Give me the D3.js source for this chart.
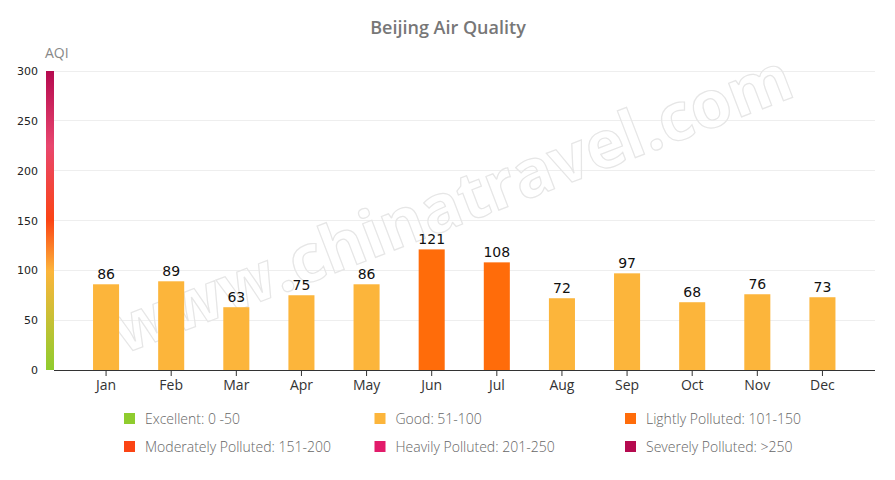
<!DOCTYPE html>
<html><head><meta charset="utf-8">
<script src="https://cdn.jsdelivr.net/npm/d3@7"></script>
<style>body{margin:0;background:#fff}text{font-family:"Open Sans",sans-serif}</style>
</head><body><div id="chart"></div>
<script>
var months = ['Jan','Feb','Mar','Apr','May','Jun','Jul','Aug','Sep','Oct','Nov','Dec'];
var aqi = [86, 89, 63, 75, 86, 121, 108, 72, 97, 68, 76, 73];
var yTicks = [0, 50, 100, 150, 200, 250, 300];
var levelNames = ['Excellent: 0 -50','Good: 51-100','Lightly Polluted: 101-150',
  'Moderately Polluted: 151-200','Heavily Polluted: 201-250','Severely Polluted: >250'];
var levelColors = ['#8fcc2e','#fcb53b','#ff6c0a','#fb4414','#e21b6a','#b50a4f'];

var width = 895, height = 480;
var svg = d3.select('#chart').append('svg').attr('width', width).attr('height', height);

var x = d3.scaleBand().domain(months).range([73.5, 855]).paddingInner(0.6).paddingOuter(0.3);
var y = d3.scaleLinear().domain([0, 300]).range([370, 71]);

// title
svg.append('text').attr('x', 448).attr('y', 34).attr('text-anchor', 'middle')
  .style('font-size', '18px').style('font-weight', '600').style('fill', '#777')
  .text('Beijing Air Quality');
svg.append('text').attr('x', 45).attr('y', 58).style('font-size', '14px').style('fill', '#888').text('AQI');

// gridlines
svg.selectAll('.grid').data(yTicks.slice(1)).enter().append('line')
  .attr('x1', 54).attr('x2', 875).attr('y1', function (d) { return y(d); }).attr('y2', function (d) { return y(d); })
  .attr('shape-rendering', 'crispEdges').style('stroke', '#eee');

// watermark
svg.append('text').attr('transform', 'translate(460,225) rotate(-21)').attr('text-anchor', 'middle')
  .style('font-size', '66px').style('font-weight', '700').style('fill', '#fff').style('fill-opacity', 0.25)
  .style('stroke', '#e6e6e6').style('stroke-width', 1.2).text('www.chinatravel.com');

// gradient axis bar
var grad = svg.append('defs').append('linearGradient').attr('id', 'aqiGrad')
  .attr('x1', 0).attr('y1', 1).attr('x2', 0).attr('y2', 0);
[[0,'#8fcc2e'],[0.33,'#fcb53b'],[0.5,'#fb4414'],[0.75,'#e8466e'],[1,'#b50a4f']].forEach(function (s) {
  grad.append('stop').attr('offset', s[0]).attr('stop-color', s[1]);
});
svg.append('rect').attr('x', 46).attr('y', y(300)).attr('width', 8).attr('height', y(0) - y(300))
  .style('fill', 'url(#aqiGrad)');

var yAxis = svg.append('g').attr('transform', 'translate(46,0)')
  .call(d3.axisLeft(y).tickValues(yTicks).tickSize(0).tickPadding(8));
yAxis.select('.domain').remove();
yAxis.selectAll('text').style('font-size', '11px').style('fill', '#222').style('font-family', 'Verdana, "DejaVu Sans", sans-serif');

// bars
function colorFor(v) { return levelColors[Math.min(5, Math.floor((v - 1) / 50))]; }
svg.selectAll('.bar').data(aqi).enter().append('rect')
  .attr('x', function (d, i) { return x(months[i]); })
  .attr('y', function (d) { return y(d); })
  .attr('width', x.bandwidth())
  .attr('height', function (d) { return y(0) - y(d); })
  .style('fill', colorFor);
svg.selectAll('.lbl').data(aqi).enter().append('text')
  .attr('x', function (d, i) { return x(months[i]) + x.bandwidth() / 2; })
  .attr('y', function (d) { return y(d) - 5; })
  .attr('text-anchor', 'middle').style('font-size', '14px').style('fill', '#111')
  .style('font-family', 'Verdana, "DejaVu Sans", sans-serif').text(function (d) { return d; });

// x axis
var xAxis = svg.append('g').attr('transform', 'translate(0,370)')
  .call(d3.axisBottom(x).tickSize(6).tickPadding(4));
xAxis.select('.domain').attr('d', 'M54,0.5H875').style('stroke', '#333');
xAxis.selectAll('line').style('stroke', '#333');
xAxis.selectAll('text').style('font-size', '14px').style('fill', '#333');

// legend
var leg = svg.selectAll('.leg').data(levelNames).enter().append('g')
  .attr('transform', function (d, i) { return 'translate(' + (124 + (i % 3) * 250.5) + ',' + (413 + Math.floor(i / 3) * 28) + ')'; });
leg.append('rect').attr('width', 11).attr('height', 11).style('fill', function (d, i) { return levelColors[i]; });
leg.append('text').attr('x', 21).attr('y', 11).style('font-size', '14px').style('fill', '#666').style('font-weight', 300)
  .text(function (d) { return d; });
</script></body></html>
